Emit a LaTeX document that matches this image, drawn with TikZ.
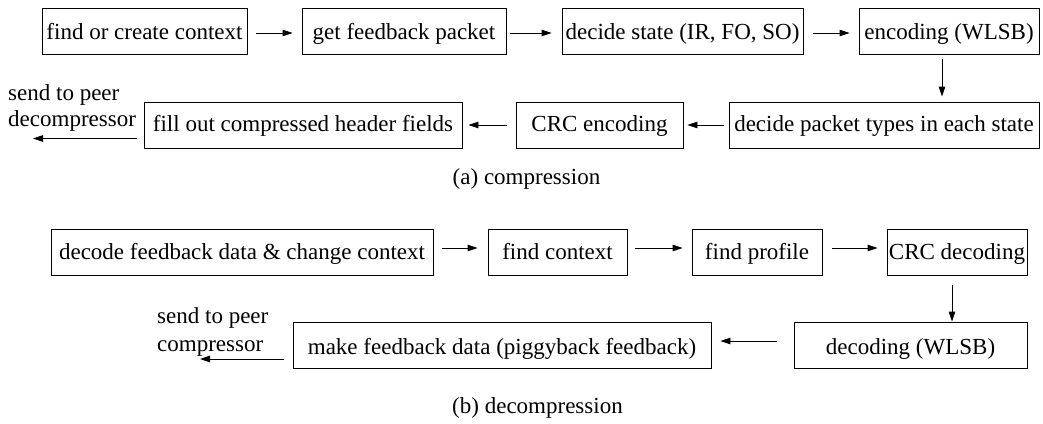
\documentclass[tikz,border=0pt]{standalone}
\usepackage{fontspec}
\setmainfont{Liberation Serif}
\usetikzlibrary{arrows.meta}
\tikzset{
  stepbox/.style={draw, line width=0.9pt, inner sep=0pt, minimum height=46pt,
    text depth=0pt, font=\fontsize{23}{27.5}\selectfont},
  lbl/.style={inner sep=0pt, align=left, anchor=base west},
  captext/.style={inner sep=0pt, anchor=base, font=\fontsize{23}{27.5}\selectfont},
  arr/.style={line width=0.9pt, -{Triangle[length=10pt,width=6.5pt]}},
}
\begin{document}
\begin{tikzpicture}[x=1pt,y=-1pt]
\useasboundingbox (0,0) rectangle (1043,423);

% (a) compression
\node[stepbox, text height=16.6pt, minimum width=205pt] (c1) at (144.5,31) {find or create context};
\node[stepbox, text height=16.6pt, minimum width=204pt] (c2) at (404,31) {get feedback packet};
\node[stepbox, text height=16.6pt, minimum width=241pt] (c3) at (682.5,31) {decide state (IR, FO, SO)};
\node[stepbox, text height=16.6pt, minimum width=180pt] (c4) at (949,31) {encoding (WLSB)};
\node[stepbox, text height=13pt, minimum width=310pt] (c5) at (884,125) {decide packet types in each state};
\node[stepbox, text height=13pt, minimum width=167pt] (c6) at (599.5,125) {CRC encoding};
\node[stepbox, text height=13pt, minimum width=318pt] (c7) at (303,125) {fill out compressed header fields};
% the base anchor of a two-line label sits on its last line
\node[lbl, font=\fontsize{23}{26}\selectfont] (s1) at (8,126.7) {send to peer\\decompressor};
\coordinate (o1) at (33,138.5);
\node[captext] (capa) at (526.5,184) {(a) compression};

\draw[arr, shorten <=9pt, shorten >=9pt] ([yshift=-2pt]c1.east) -- ([yshift=-2pt]c2.west);
\draw[arr, shorten <=4pt, shorten >=10pt] ([yshift=-2pt]c2.east) -- ([yshift=-2pt]c3.west);
\draw[arr, shorten <=10pt, shorten >=9pt] ([yshift=-2pt]c3.east) -- ([yshift=-2pt]c4.west);
\draw[arr, shorten <=5pt, shorten >=5pt] ([xshift=-7pt]c4.south) -- ([xshift=-7pt]c4.south |- c5.north);
\draw[arr, shorten <=5pt, shorten >=4pt] (c5.west) -- (c6.east);
\draw[arr, shorten <=9pt, shorten >=6pt] (c6.west) -- (c7.east);
\draw[arr, shorten <=7pt] ([yshift=-13.5pt]c7.west) -- (o1);

% (b) decompression
\node[stepbox, text height=14.6pt, minimum width=382pt] (d1) at (242,252.5) {decode feedback data \& change context};
\node[stepbox, text height=14.6pt, minimum width=139pt] (d2) at (557.5,252.5) {find context};
\node[stepbox, text height=14.6pt, minimum width=130pt] (d3) at (757,252.5) {find profile};
\node[stepbox, text height=14.6pt, minimum width=140pt] (d4) at (957,252.5) {CRC decoding};
\node[stepbox, text height=18pt, minimum width=233pt] (d5) at (910.5,345) {decoding (WLSB)};
\node[stepbox, text height=18pt, minimum width=418pt] (d6) at (502,345) {make feedback data (piggyback feedback)};
\node[lbl, font=\fontsize{23}{28}\selectfont] (s2) at (157,351) {send to peer\\compressor};
\coordinate (o2) at (200,359);
\node[captext] (capb) at (537.5,413) {(b) decompression};

\draw[arr, shorten <=9pt, shorten >=10pt] ([yshift=4.5pt]d1.east) -- ([yshift=4.5pt]d2.west);
\draw[arr, shorten <=8pt, shorten >=9pt] ([yshift=4.5pt]d2.east) -- ([yshift=4.5pt]d3.west);
\draw[arr, shorten <=10pt, shorten >=9pt] ([yshift=4.5pt]d3.east) -- ([yshift=4.5pt]d4.west);
\draw[arr, shorten <=9pt] ([xshift=-5pt]d4.south) -- ([xshift=-5pt]d4.south |- d5.north);
\draw[arr, shorten <=17pt, shorten >=9pt] ([yshift=4pt]d5.west) -- ([yshift=4pt]d6.east);
\draw[arr, shorten <=9pt] ([yshift=-14pt]d6.west) -- (o2);
\end{tikzpicture}
\end{document}
